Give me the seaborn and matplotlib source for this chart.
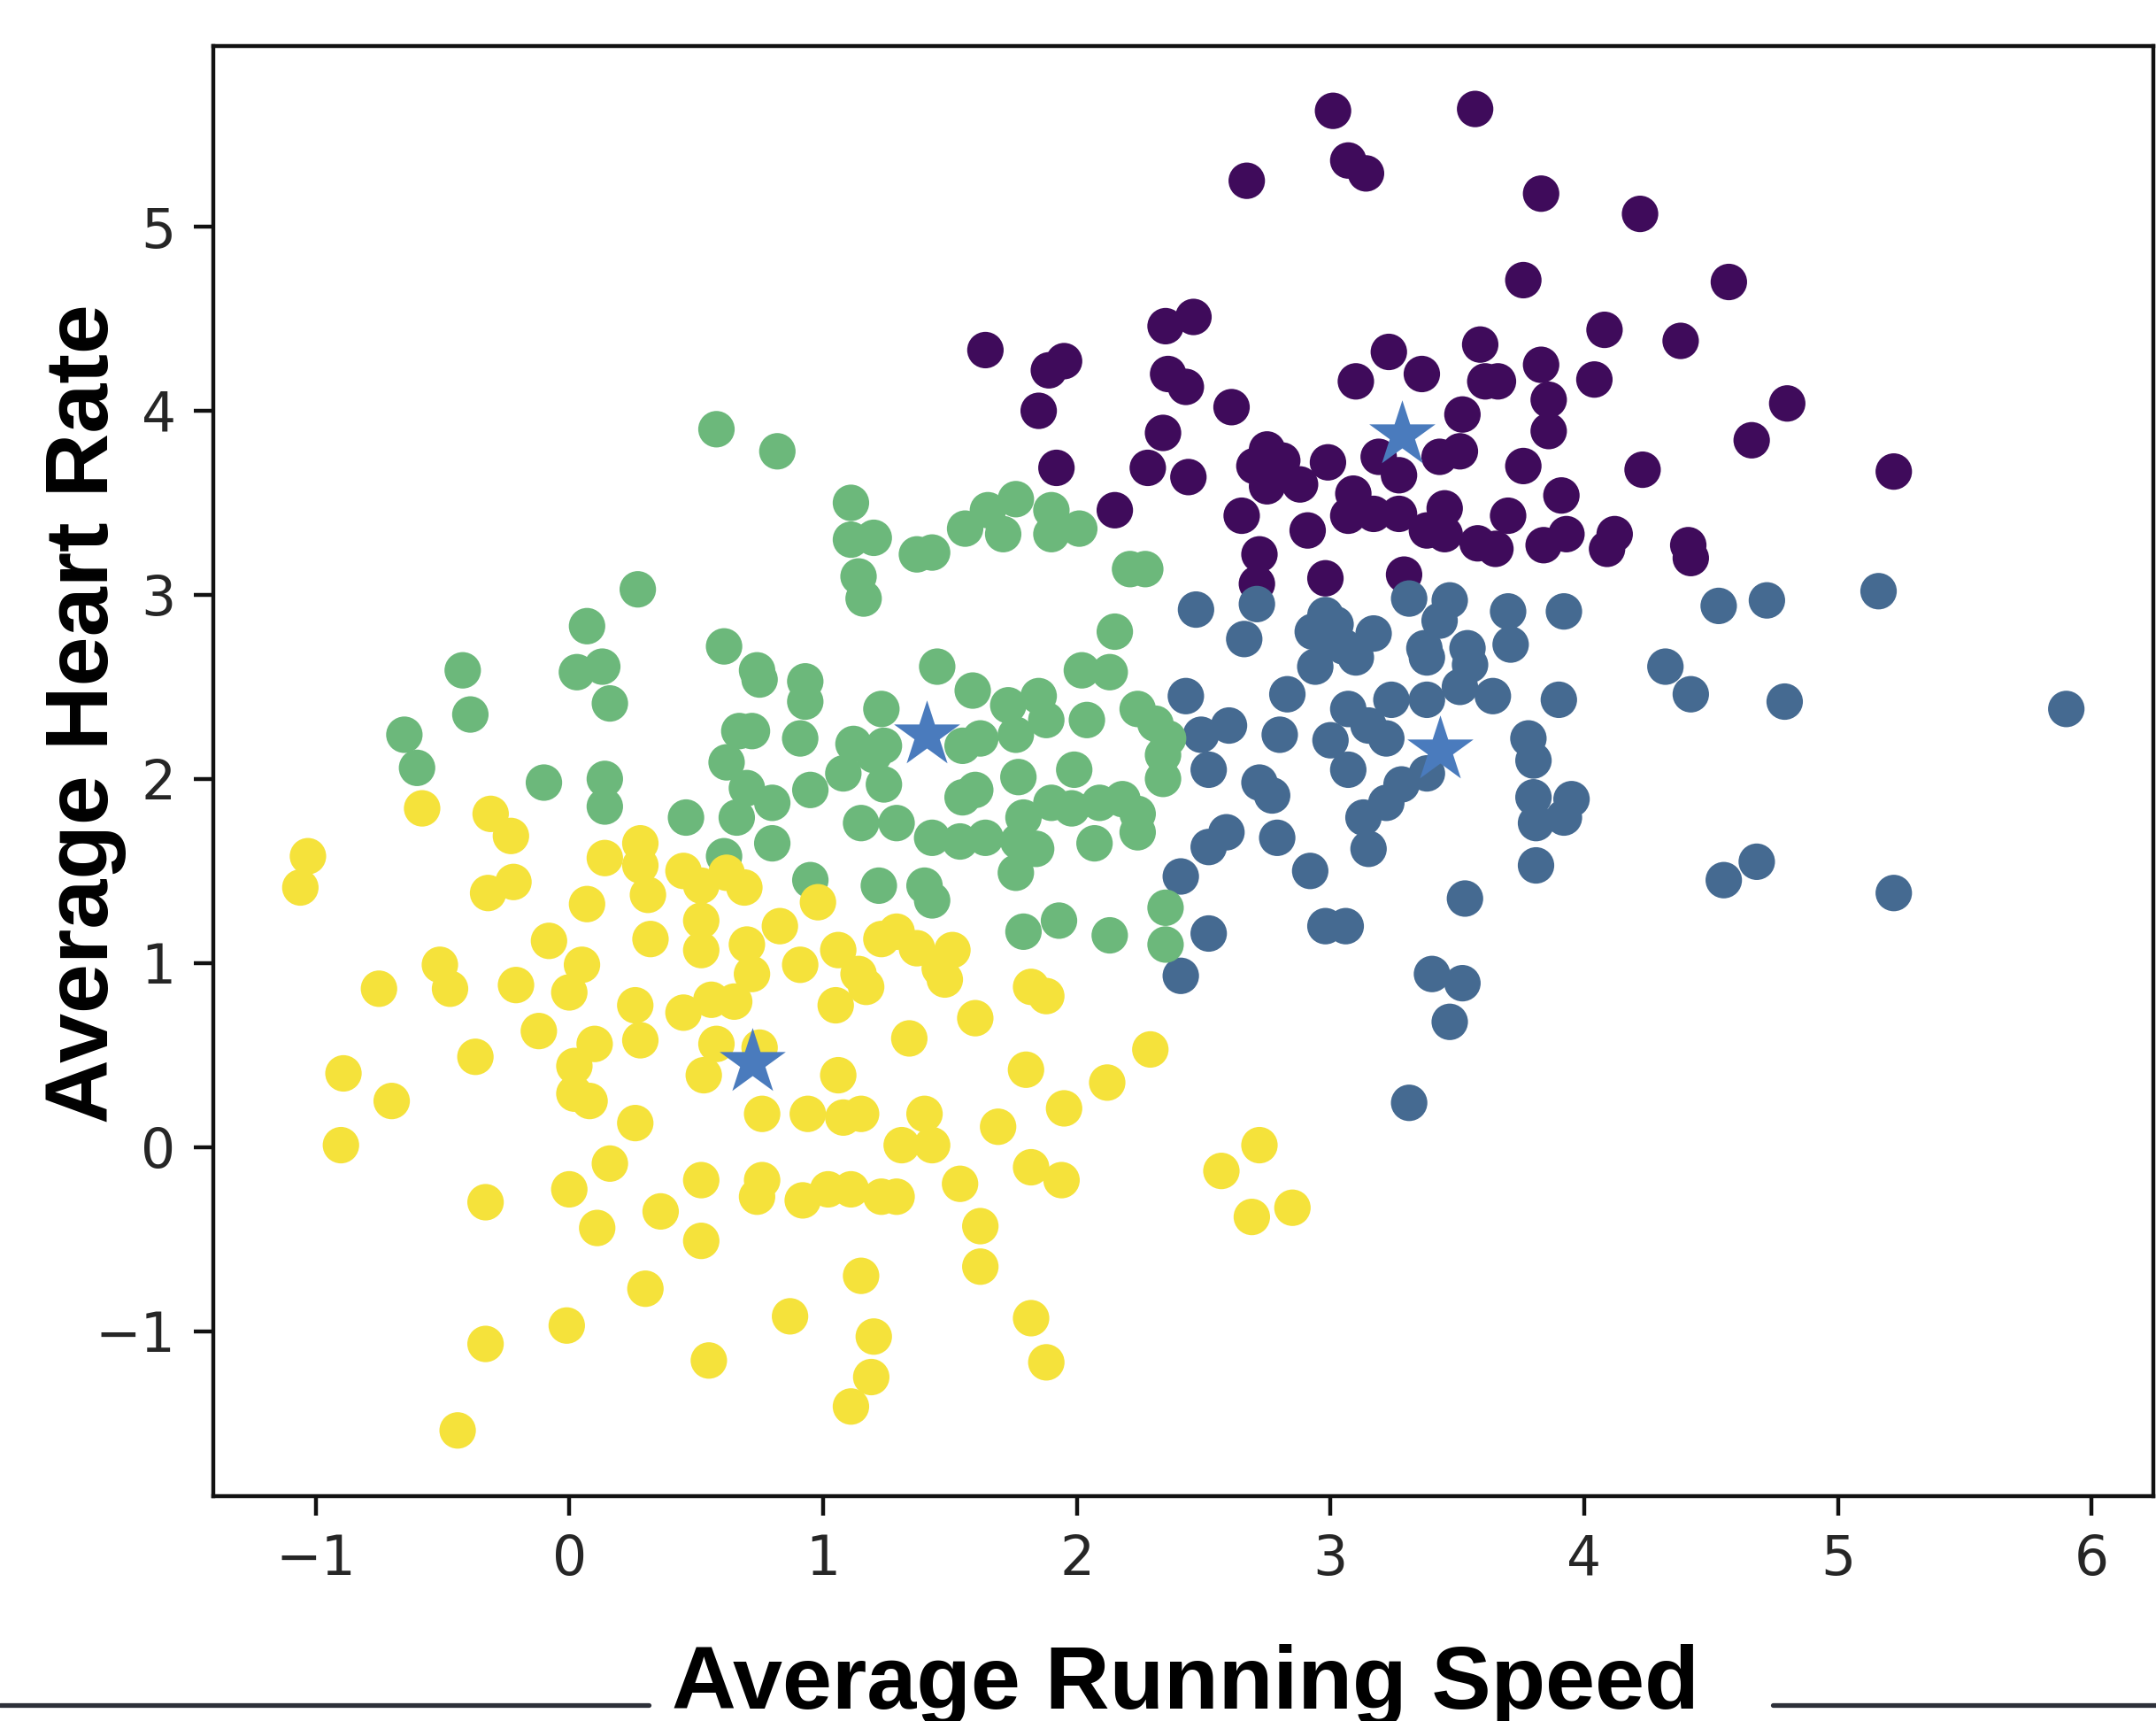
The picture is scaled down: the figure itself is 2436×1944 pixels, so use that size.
import matplotlib
matplotlib.use("Agg")
import numpy as np
import pandas as pd
import seaborn as sns
import matplotlib.pyplot as plt
from matplotlib.lines import Line2D

# ---------------- data ----------------
purple_x = [3.01, 3.57, 2.67, 3.07, 3.14, 3.83, 4.22, 3.76, 4.57, 2.35, 2.46, 4.08, 4.38, 1.64,
            1.89, 1.95, 3.23, 3.59, 2.36, 2.43, 3.10, 3.36, 3.61, 3.66, 3.83, 4.04, 4.80, 1.85,
            2.61, 3.52, 3.86, 3.86, 2.34, 4.66, 5.22, 4.23, 1.92, 2.28, 2.44, 2.15, 2.75, 2.75,
            2.88, 2.99, 2.65, 2.91, 2.72, 2.71, 2.98, 3.29, 3.09, 3.07, 3.17, 3.27, 3.19, 3.27,
            3.38, 3.45, 3.45, 3.51, 3.43, 3.58, 3.65, 3.70, 3.76, 3.91, 3.84, 3.93, 4.12, 4.09,
            4.41, 4.42, 2.81, 2.70]
purple_y = [5.63, 5.64, 5.25, 5.36, 5.29, 5.18, 5.07, 4.71, 4.70, 4.46, 4.51, 4.44, 4.38, 4.33,
            4.22, 4.27, 4.32, 4.36, 4.20, 4.13, 4.16, 4.20, 4.16, 4.16, 4.25, 4.17, 4.04, 4.00,
            4.02, 3.98, 4.06, 3.89, 3.88, 3.84, 3.67, 3.68, 3.69, 3.69, 3.64, 3.46, 3.79, 3.59,
            3.60, 3.72, 3.43, 3.35, 3.22, 3.06, 3.09, 3.11, 3.55, 3.43, 3.44, 3.44, 3.75, 3.65,
            3.35, 3.47, 3.33, 3.78, 3.75, 3.28, 3.25, 3.43, 3.70, 3.54, 3.27, 3.33, 3.33, 3.25,
            3.27, 3.20, 3.73, 3.70]

blue_x = [2.47, 2.71, 2.66, 2.98, 2.99, 3.17, 2.94, 3.10, 3.05, 3.31, 3.47, 3.43, 3.70, 3.92,
          3.71, 3.38, 3.55, 3.51, 3.64, 3.38, 3.24, 3.90, 2.43, 2.83, 3.07, 3.15, 3.22, 2.49,
          2.60, 2.80, 3.00, 2.52, 3.07, 2.72, 2.77, 3.78, 3.80, 3.38, 3.28, 3.22, 3.13, 3.15,
          3.80, 3.95, 3.92, 3.81, 3.81, 3.53, 2.59, 2.52, 2.79, 2.92, 2.41, 2.52, 2.98, 3.06,
          4.53, 4.72, 5.16, 4.32, 4.42, 4.79, 5.90, 4.55, 4.68, 5.22, 2.41, 3.40, 3.52, 3.47,
          3.31, 3.37, 3.54, 2.93, 3.02]
blue_y = [2.92, 2.95, 2.76, 2.89, 2.75, 2.79, 2.61, 2.66, 2.72, 2.98, 2.97, 2.86, 2.91, 2.91,
          2.73, 2.66, 2.62, 2.50, 2.45, 2.43, 2.43, 2.43, 2.45, 2.46, 2.38, 2.29, 2.22, 2.24,
          2.29, 2.24, 2.21, 2.05, 2.05, 1.98, 1.91, 2.22, 2.10, 2.03, 1.97, 1.87, 1.79, 1.62,
          1.90, 1.89, 1.79, 1.76, 1.53, 1.35, 1.71, 1.63, 1.68, 1.50, 1.47, 1.16, 1.20, 1.20,
          2.94, 2.97, 3.02, 2.61, 2.46, 2.42, 2.38, 1.45, 1.55, 1.38, 0.93, 0.94, 0.89, 0.68,
          0.24, 2.71, 2.71, 2.80, 2.84]

green_x = [0.58, 0.82, 1.11, 1.11, 1.20, 1.14, 1.16, 0.27, 0.07, -0.42, -0.39, 0.03, 0.13, 0.16,
           0.61, 0.74, 0.75, 0.93, 0.93, 0.67, 0.72, 0.91, 0.62, 0.70, 0.80, 0.66, 0.80, 0.46,
           0.61, 0.95, 0.95, 1.08, 1.12, 1.20, 1.15, 1.23, 1.22, -0.65, -0.60, -0.10, 0.14, 0.14,
           1.37, 1.43, 1.56, 1.65, 1.76, 1.90, 2.01, 1.71, 1.90, 2.21, 2.27, 2.15, 1.45, 1.59,
           2.02, 2.13, 1.73, 1.85, 1.88, 1.76, 1.62, 1.55, 2.04, 2.24, 2.31, 2.36, 2.34, 1.24,
           1.24, 1.99, 1.77, 2.34, 1.55, 1.60, 1.29, 1.43, 1.54, 1.64, 1.79, 1.90, 1.98, 2.09,
           2.18, 2.24, 1.77, 1.84, 2.07, 2.24, 1.40, 1.43, 1.76, 1.79, 1.93, 2.13, 2.35, 2.35]
green_y = [3.90, 3.78, 3.50, 3.30, 3.31, 3.10, 2.98, 3.03, 2.83, 2.59, 2.35, 2.58, 2.61, 2.41,
           2.72, 2.59, 2.54, 2.53, 2.42, 2.26, 2.26, 2.22, 2.09, 1.95, 1.87, 1.79, 1.65, 1.79,
           1.58, 1.45, 1.94, 2.03, 2.19, 2.13, 1.76, 2.38, 1.42, 2.24, 2.06, 1.98, 2.00, 1.85,
           3.22, 3.23, 3.36, 3.46, 3.52, 3.46, 3.36, 3.33, 3.33, 3.14, 3.14, 2.80, 2.61, 2.48,
           2.59, 2.58, 2.40, 2.45, 2.32, 2.24, 2.22, 2.18, 2.32, 2.38, 2.30, 2.22, 2.13, 2.18,
           1.97, 2.05, 2.01, 2.00, 1.90, 1.94, 1.76, 1.68, 1.66, 1.68, 1.79, 1.87, 1.84, 1.87,
           1.89, 1.81, 1.66, 1.62, 1.65, 1.71, 1.42, 1.34, 1.49, 1.17, 1.23, 1.15, 1.30, 1.10]

yellow_x = [-1.03, -1.06, -0.89, -0.90, -0.58, -0.31, -0.23, -0.32, -0.22, 0.07, 0.14, 0.28,
            0.28, 0.31, 0.45, 0.52, 0.62, 0.69, 0.52, 0.52, 0.32, 0.83, 0.98, -0.08, 0.05,
            -0.51, -0.47, -0.21, 0.70, 0.72, 0.91, 1.06, 1.14, 1.23, -0.75, 0.00, 0.26, 0.28,
            -0.12, -0.37, -0.70, 0.10, 0.02, 0.02, 0.08, 0.26, 0.45, 0.56, 0.65, 0.58, 0.53,
            0.75, 0.76, 0.94, 1.08, 1.15, 1.06, 1.05, 1.17, 0.16, 0.00, 0.11, -0.33, 0.36, 0.52,
            0.52, 0.74, 0.76, 0.92, 1.02, 1.11, 1.23, 0.30, 1.15, 0.87, -0.01, -0.33, 0.55, 1.20,
            1.19, 1.11, -0.44, 1.48, 1.82, 1.88, 1.60, 1.34, 1.80, 1.95, 2.12, 2.29, 1.40, 1.43,
            1.31, 1.69, 1.29, 1.54, 1.82, 1.94, 1.62, 1.62, 1.82, 1.88, 2.72, 2.57, 2.69, 2.85,
            1.29, 1.37, 1.51, 1.46]
yellow_y = [1.58, 1.41, 0.40, 0.01, 1.84, 1.81, 1.69, 1.38, 1.44, 1.32, 1.57, 1.65, 1.53,
            1.37, 1.50, 1.42, 1.49, 1.41, 1.23, 1.07, 1.13, 1.20, 1.33, 1.12, 0.99, 0.99, 0.86,
            0.88, 1.10, 0.94, 0.99, 1.07, 0.94, 1.13, 0.86, 0.84, 0.77, 0.58, 0.63, 0.49, 0.25,
            0.56, 0.44, 0.29, 0.25, 0.13, 0.73, 0.80, 0.79, 0.56, 0.39, 0.54, 0.18, 0.18, 0.16,
            0.18, 0.39, 0.77, 0.87, -0.09, -0.23, -0.44, -0.30, -0.35, -0.18, -0.51, -0.27, -0.18,
            -0.29, -0.23, -0.23, -0.27, -0.77, -0.70, -0.92, -0.97, -1.07, -1.16, -1.03, -1.25,
            -1.41, -1.54, 0.91, 0.87, 0.82, 0.70, 0.59, 0.42, 0.21, 0.35, 0.53, 0.18, 0.01, 0.01,
            0.11, -0.27, -0.20, -0.11, -0.18, -0.43, -0.65, -0.93, -1.17, 0.01, -0.13, -0.38,
            -0.33, 1.17, 1.08, 1.07, 0.97]

centroid_x = [3.28, 1.41, 3.43, 0.72]
centroid_y = [3.87, 2.24, 2.16, 0.46]

cluster_names = ["0", "1", "2", "3"]
palette = {"0": "#3f0b5b", "1": "#456a91", "2": "#6cb87b", "3": "#f5e23b"}

df = pd.DataFrame({
    "speed": purple_x + blue_x + green_x + yellow_x,
    "heart": purple_y + blue_y + green_y + yellow_y,
    "cluster": (["0"] * len(purple_x) + ["1"] * len(blue_x)
                + ["2"] * len(green_x) + ["3"] * len(yellow_x)),
})

# ---------------- figure ----------------
sns.set_theme(style="white")
plt.rcParams["font.family"] = ["DejaVu Sans"]

W, H = 2436, 1944
fig = plt.figure(figsize=(W / 100, H / 100), dpi=100)
fig.patch.set_facecolor("white")
ax = fig.add_axes([241 / W, (H - 1690) / H, (2433 - 241) / W, (1690 - 52) / H])

sns.scatterplot(data=df, x="speed", y="heart", hue="cluster", hue_order=cluster_names,
                palette=palette, s=880, linewidth=0, legend=False, ax=ax, zorder=2)
sns.scatterplot(x=centroid_x, y=centroid_y, marker="*", s=3200, color="#4a7bbd",
                linewidth=0, legend=False, ax=ax, zorder=3)

ax.set_xlim(-1.403, 6.243)
ax.set_ylim(-1.897, 5.982)
ax.set_xticks(range(-1, 7))
ax.set_yticks(range(-1, 6))
ax.set_xlabel("")
ax.set_ylabel("")
ax.set_facecolor("white")
for sp in ax.spines.values():
    sp.set_visible(True)
    sp.set_color("#111111")
    sp.set_linewidth(3.2)
ax.tick_params(axis="both", which="major", length=15.5, width=3.2, pad=15,
               labelsize=44.4, color="#111111", labelcolor="#262626",
               bottom=True, left=True)

label_font = dict(family=["Liberation Sans", "DejaVu Sans"], fontweight="bold",
                  fontsize=72.5, color="black")
fig.text(1339 / W, (H - 1930) / H, "Average Running Speed", ha="center",
         va="baseline", **label_font)
fig.text(122 / W, (H - 806) / H, "Average Heart Rate", rotation=90,
         rotation_mode="anchor", ha="center", va="baseline", **label_font)

line_y = (H - 1925.5) / H
fig.add_artist(Line2D([0, 733 / W], [line_y, line_y], transform=fig.transFigure,
                      color="#2d3039", linewidth=3.8))
fig.add_artist(Line2D([2003 / W, 1.0], [line_y, line_y], transform=fig.transFigure,
                      color="#2d3039", linewidth=3.8))

fig.savefig("out.png", dpi=100, facecolor="white")
